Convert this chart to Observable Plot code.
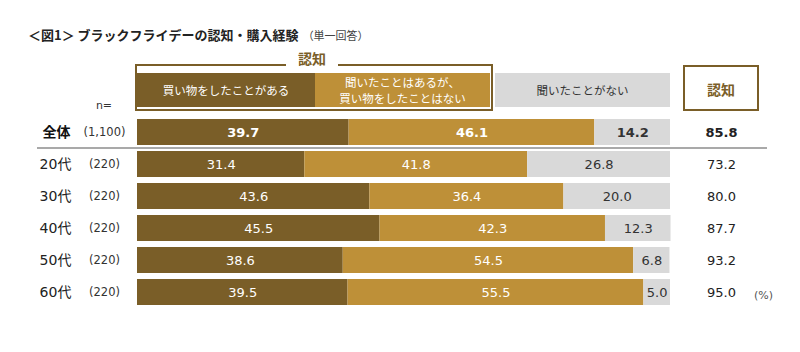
<!DOCTYPE html>
<html>
<head>
<meta charset="utf-8">
<script src="https://cdn.jsdelivr.net/npm/d3@7"></script>
<script src="https://cdn.jsdelivr.net/npm/@observablehq/plot@0.6"></script>
<style>
  body { margin: 0; background: #fff; }
  #wrap { position: relative; width: 800px; height: 352px; overflow: hidden; font-family: "Noto Sans CJK JP", sans-serif; }
  #wrap > svg { position: absolute; left: 0; top: 0; }
  .abs { position: absolute; box-sizing: border-box; }
  .title { left: 28px; top: 25px; font-size: 13px; font-weight: bold; color: #222; white-space: nowrap; }
  .title .sub { font-size: 11px; font-weight: normal; color: #444; margin-left: 4px; }
  .outline { left: 135px; top: 64px; width: 358px; height: 47px; border: 2.5px solid #7A5E28; }
  .aware-label { left: 286px; top: 49px; width: 52px; text-align: center; background: #fff; font-size: 14px; font-weight: bold; color: #7A5E28; line-height: 18px; }
  .lg { top: 73px; height: 34px; display: flex; align-items: center; justify-content: center; text-align: center; font-size: 11.5px; line-height: 16.5px; white-space: pre; }
  .rbox { left: 683px; top: 65px; width: 76px; height: 46px; border: 2.5px solid #7A5E28; display: flex; align-items: center; justify-content: center; font-size: 14px; font-weight: bold; color: #7A5E28; padding-top: 2px; }
  .n { left: 94px; top: 99px; width: 20px; text-align: center; font-family: "DejaVu Sans", sans-serif; font-size: 11px; color: #333; }
</style>
</head>
<body>
<div id="wrap"></div>
<script>
// ---- data ----
const groups = ["全体", "20代", "30代", "40代", "50代", "60代"];
const sampleSizes = ["(1,100)", "(220)", "(220)", "(220)", "(220)", "(220)"];
const categories = ["買い物をしたことがある", "聞いたことはあるが、\n買い物をしたことはない", "聞いたことがない"];
const bought = [39.7, 31.4, 43.6, 45.5, 38.6, 39.5];
const heardNotBought = [46.1, 41.8, 36.4, 42.3, 54.5, 55.5];
const notHeard = [14.2, 26.8, 20.0, 12.3, 6.8, 5.0];
const aware = [85.8, 73.2, 80.0, 87.7, 93.2, 95.0];
const titleText = "＜図1＞ ブラックフライデーの認知・購入経験";
const subText = "（単一回答）";
const awareText = "認知";

// ---- styles ----
const fills = ["#7A5E28", "#BE9038", "#D9D9D9"];
const textFills = ["#ffffff", "#ffffff", "#333333"];

const series = [bought, heardNotBought, notHeard];
const long = [];
groups.forEach((g, gi) => {
  series.forEach((s, ci) => {
    long.push({group: g, cat: ci, value: s[gi], fill: fills[ci], tfill: textFills[ci]});
  });
});
const rows = groups.map((g, i) => ({group: g, n: sampleSizes[i], aware: aware[i]}));
const isTotal = d => d.group === groups[0];

const numFont = "'DejaVu Sans', 'Noto Sans CJK JP', sans-serif";

const chart = Plot.plot({
  width: 800,
  height: 352,
  marginLeft: 37,
  marginRight: 33,
  marginTop: 114,
  marginBottom: 42,
  x: {domain: [0, 100], range: [137, 670], axis: null},
  y: {domain: groups, axis: null, paddingInner: 0.19, paddingOuter: 0.095, align: 0.5},
  color: {type: "identity"},
  style: {fontFamily: numFont, fontSize: "13px", color: "#222", background: "white"},
  marks: [
    Plot.barX(long, Plot.stackX({x: "value", y: "group", fill: "fill", order: null})),
    Plot.text(long.filter(isTotal), Plot.stackX({x: "value", y: "group", text: d => d.value.toFixed(1), fill: "tfill", fontWeight: "bold", fontSize: 13, order: null})),
    Plot.text(long.filter(d => !isTotal(d)), Plot.stackX({x: "value", y: "group", text: d => d.value.toFixed(1), fill: "tfill", fontSize: 13, order: null})),
    Plot.ruleY([groups[1]], {dy: -16.5, stroke: "#8c8c8c", strokeWidth: 1.5}),
    // group labels
    Plot.text(rows.filter(isTotal), {y: "group", text: "group", frameAnchor: "left", dx: 19, textAnchor: "middle", fontWeight: "bold", fontSize: 14, fill: "#111"}),
    Plot.text(rows.filter(d => !isTotal(d)), {y: "group", text: "group", frameAnchor: "left", dx: 18, textAnchor: "middle", fontSize: 14, fill: "#222"}),
    // sample sizes
    Plot.text(rows, {y: "group", text: "n", frameAnchor: "left", dx: 67, textAnchor: "middle", fontSize: 11.5, fill: "#333"}),
    // aware totals
    Plot.text(rows.filter(isTotal), {y: "group", text: d => d.aware.toFixed(1), frameAnchor: "right", dx: -46, textAnchor: "middle", fontWeight: "bold", fontSize: 13, fill: "#222"}),
    Plot.text(rows.filter(d => !isTotal(d)), {y: "group", text: d => d.aware.toFixed(1), frameAnchor: "right", dx: -46, textAnchor: "middle", fontSize: 13, fill: "#222"}),
    Plot.text([groups[groups.length - 1]], {y: d => d, text: () => "(%)", frameAnchor: "right", dx: -4, dy: 3, textAnchor: "middle", fontSize: 11, fill: "#555"})
  ]
});

const wrap = document.getElementById("wrap");
wrap.appendChild(chart);

function add(cls, text, style) {
  const d = document.createElement("div");
  d.className = "abs " + cls;
  if (text != null) d.textContent = text;
  Object.assign(d.style, style || {});
  wrap.appendChild(d);
  return d;
}

const t = add("title", titleText);
const s = document.createElement("span");
s.className = "sub";
s.textContent = subText;
t.appendChild(s);

add("outline", null);
add("aware-label", awareText);
const lgPos = [[137, 178], [315, 175], [495, 175]];
categories.forEach((c, i) => {
  add("lg", c, {left: lgPos[i][0] + "px", width: lgPos[i][1] + "px", background: fills[i], color: textFills[i]});
});
add("rbox", awareText);
add("n", "n=");
</script>
</body>
</html>
